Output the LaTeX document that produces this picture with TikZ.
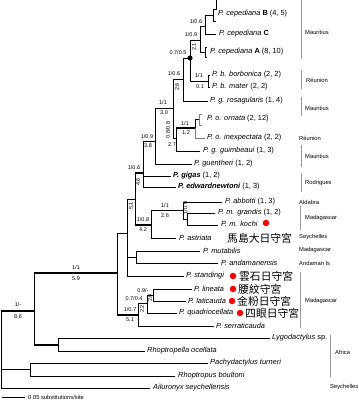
\documentclass[tikz,border=0pt]{standalone}
\usepackage{fontspec}
\setmainfont{Liberation Sans}
\newfontfamily\cjk{Noto Sans CJK TC}
\begin{document}
\begin{tikzpicture}[x=1pt,y=-1pt,
  br/.style={line width=0.75pt},
  thk/.style={line width=2.2pt},
  gbr/.style={line width=0.75pt, draw=gray},
  tip/.style={anchor=west, inner sep=0pt, font=\fontsize{7.4}{8}\selectfont},
  supl/.style={inner sep=0pt, font=\fontsize{5.5}{6}\selectfont},
  rsupl/.style={supl, rotate=90},
  reg/.style={anchor=west, inner sep=0pt, font=\fontsize{5.8}{6}\selectfont},
  regbar/.style={draw=gray!80, line width=0.8pt},
  rdot/.style={circle, fill=red, inner sep=0pt, minimum size=6.5pt},
  zh/.style={anchor=west, inner sep=0pt, font=\cjk\fontsize{10.8}{11}\selectfont}
]
\useasboundingbox (0,0) rectangle (359,400);
% ---------- coordinates of internal nodes ----------
\coordinate (r) at (1,311);
\coordinate (o1) at (34,311);
\coordinate (o2) at (58,345);
\coordinate (o3) at (30,369);
\coordinate (P) at (117,273);
\coordinate (U) at (127,233);
\coordinate (V) at (135,199);
\coordinate (W) at (143,173);
\coordinate (M) at (155,141);
\coordinate (F) at (173,108);
\coordinate (E) at (183,79);
\coordinate (D) at (190,58);
\coordinate (ABC) at (200,40);
\coordinate (BC) at (205,26);
\coordinate (BM) at (208,81);
\coordinate (G) at (176,138);
\coordinate (H) at (195,128);
\coordinate (AB) at (151,225);
\coordinate (AG) at (183,210);
\coordinate (GK) at (187,219);
\coordinate (MA) at (136,257);
\coordinate (L1) at (138,315);
\coordinate (L2) at (147,303);
\coordinate (L3) at (153,295);
% ---------- tip ends ----------
\coordinate (tB) at (213,15);
\coordinate (tC) at (216,34);
\coordinate (tA) at (205,52);
\coordinate (tRos) at (208,101);
\coordinate (tOrn) at (199,119);
\coordinate (tIne) at (205,138);
\coordinate (tGui) at (200,151);
\coordinate (tGue) at (192,164);
\coordinate (tGig) at (171,176);
\coordinate (tEdw) at (176,187);
\coordinate (tAbb) at (222,202);
\coordinate (tGra) at (215,213);
\coordinate (tKoc) at (218,225);
\coordinate (tAst) at (176,238);
\coordinate (tMut) at (200,251);
\coordinate (tAnd) at (218,263);
\coordinate (tSta) at (184,276);
\coordinate (tLin) at (192,289);
\coordinate (tLat) at (186,301);
\coordinate (tQua) at (177,313);
\coordinate (tSer) at (214,326);
\coordinate (tLyg) at (270,338);
\coordinate (tRhe) at (145,351);
\coordinate (tPac) at (208,363);
\coordinate (tRho) at (175,376);
\coordinate (tAil) at (150,388);
% ---------- branches ----------
\draw[thk] (r) -- (o1);
\draw[br] (r) |- (o3);
\draw[br] (r) |- (tAil);
\draw[br] (o3) |- (tPac);
\draw[br] (o3) |- (tRho);
\draw[br] (o1|-P) -- (o1|-o2);
\draw[thk] (o1|-P) -- (P);
\draw[thk] (o1|-o2) -- (o2);
\draw[br] (o2) |- (tLyg);
\draw[br] (o2) |- (tRhe);
\draw[br] (P) |- (U);
\draw[br] (P) -- (P|-L1);
\draw[thk] (P|-L1) -- (L1);
\draw[br] (U) |- (MA);
\draw[br] (U) |- (tSta);
\draw[br] (U) |- (V);
\draw[br] (V) -- (V|-W);
\draw[thk] (V|-W) -- (W);
\draw[br] (V) -- (V|-AB);
\draw[thk] (V|-AB) -- (AB);
\draw[br] (W) |- (M);
\draw[br] (W) |- (tGig);
\draw[br] (W) |- (tEdw);
\draw[br] (M) |- (F);
\draw[br] (M) |- (tGue);
\draw[br] (F) |- (E);
\draw[br] (F) |- (G);
\draw[br] (E) |- (D);
\draw[br] (E) |- (tRos);
\draw[br] (D) |- (ABC);
\draw[br] (D) |- (BM);
\draw[br] (ABC) |- (BC);
\draw[br] (ABC) |- (tA);
\draw[br] (BC) |- (tB);
\draw[br] (BC) |- (tC);
\draw[br] (G) -- (G|-H);
\draw[thk] (G|-H) -- (H);
\draw[br] (G) |- (tGui);
\draw[br] (H) |- (tOrn);
\draw[gbr] (H) |- (tIne);
\draw[br] (AB) |- (AG);
\draw[br] (AB) |- (tAst);
\draw[br] (AG) |- (tAbb);
\draw[br] (AG) |- (GK);
\draw[br] (GK) |- (tGra);
\draw[br] (GK) |- (tKoc);
\draw[br] (MA) |- (tMut);
\draw[br] (MA) |- (tAnd);
\draw[br] (L1) |- (L2);
\draw[br] (L1) |- (tSer);
\draw[br] (L2) |- (L3);
\draw[br] (L2) |- (tQua);
\draw[br] (L3) |- (tLin);
\draw[br] (L3) |- (tLat);
% collapsed clades (brackets)
\draw[br] (216,0) -- (216,9) -- (213,9) -- (213,21) -- (216,21);
\draw[br] (207,47) -- (205,47) -- (205,57) -- (207,57);
\draw[br] (210,75) -- (208,75) -- (208,87) -- (210,87);
\draw[gbr] (202,114) -- (199,114) -- (199,125) -- (202,125);
\fill (D) circle (2.6pt);
% ---------- tip labels ----------
\node[tip] (lB) at (218,14) {\textit{P. cepediana} \textbf{B} (4, 5)};
\node[tip] (lC) at (219,34) {\textit{P. cepediana} \textbf{C}};
\node[tip] (lA) at (210,52) {\textit{P. cepediana} \textbf{A} (8, 10)};
\node[tip] (lBo) at (212,75) {\textit{P. b. borbonica} (2, 2)};
\node[tip] (lMa) at (212,87) {\textit{P. b. mater} (2, 2)};
\node[tip] (lRo) at (210,101) {\textit{P. g. rosagularis} (1, 4)};
\node[tip] (lOr) at (207,119) {\textit{P. o. ornata} (2, 12)};
\node[tip] (lIn) at (207,138) {\textit{P. o. inexpectata} (2, 2)};
\node[tip] (lGu) at (203,151) {\textit{P. g. guimbeaui} (1, 3)};
\node[tip] (lGe) at (194,164) {\textit{P. guentheri} (1, 2)};
\node[tip] (lGi) at (173,176) {\textbf{\textit{P. gigas}} (1, 2)};
\node[tip] (lEd) at (178,187) {\textbf{\textit{P. edwardnewtoni}} (1, 3)};
\node[tip] (lAb) at (225,202) {\textit{P. abbotti} (1, 3)};
\node[tip] (lGr) at (218,213) {\textit{P. m. grandis} (1, 2)};
\node[tip] (lKo) at (221,224) {\textit{P. m. kochi}};
\node[tip] (lAs) at (179,238) {\textit{P. astriata}};
\node[tip] (lMu) at (203,251) {\textit{P. mutabilis}};
\node[tip] (lAn) at (221,263) {\textit{P. andamanensis}};
\node[tip] (lSt) at (186,276) {\textit{P. standingi}};
\node[tip] (lLi) at (194,289) {\textit{P. lineata}};
\node[tip] (lLa) at (188,301) {\textit{P. laticauda}};
\node[tip] (lQu) at (179,313) {\textit{P. quadriocellata}};
\node[tip] (lSe) at (216,326) {\textit{P. serraticauda}};
\node[tip] (lLy) at (272,338) {\textit{Lygodactylus} sp.};
\node[tip] (lRe) at (147,351) {\textit{Rhoptropella ocellata}};
\node[tip] (lPa) at (210,363) {\textit{Pachydactylus turneri}};
\node[tip] (lRh) at (178,376) {\textit{Rhoptropus boultoni}};
\node[tip] (lAi) at (153,388) {\textit{Ailuronyx seychellensis}};
% ---------- red dots and Chinese names ----------
\node[rdot] (d1) at (266,223) {};
\node[zh] (z1) at (227,238) {馬島大日守宮};
\node[rdot] (d2) at (233,276) {};
\node[zh] (z2) at (239,276) {雲石日守宮};
\node[rdot] (d3) at (233,289) {};
\node[zh] (z3) at (238,289) {腰紋守宮};
\node[rdot] (d4) at (232,301) {};
\node[zh] (z4) at (237,301) {金粉日守宮};
\node[rdot] (d5) at (240,313) {};
\node[zh] (z5) at (245,313) {四眼日守宮};
% ---------- support values ----------
\node[supl] (s1) at (196,22) {1/0.6};
\node[supl] (s2) at (191,35) {1/0.9};
\node[rsupl] (s3) at (194,47) {2.1};
\node[supl] (s4) at (178,53) {0.7/0.5};
\node[supl] (s5) at (199,76) {1/1};
\node[supl] (s6) at (200,87) {0.1};
\node[supl] (s7) at (174,74) {1/0.6};
\node[rsupl] (s8) at (177,87) {2.6};
\node[supl] (s9) at (163,103) {1/1};
\node[supl] (s10) at (164,113) {3.0};
\node[rsupl] (s11) at (168,130) {0.8/0.8};
\node[supl] (s12) at (172,145) {2.7};
\node[supl] (s13) at (185,124) {1/1};
\node[supl] (s14) at (186,133) {1.2};
\node[supl] (s15) at (147,137) {1/0.9};
\node[supl] (s16) at (148,146) {3.8};
\node[supl] (s17) at (134,168) {1/0.6};
\node[rsupl] (s18) at (138,182) {4.6};
\node[rsupl] (s19) at (131,206) {5.1};
\node[supl] (s20) at (143,220) {1/0.8};
\node[supl] (s21) at (143,230) {4.2};
\node[supl] (s22) at (165,206) {1/1};
\node[supl] (s23) at (165,216) {2.6};
\node[rsupl] (s24) at (185.5,208) {1/0.9};
\node[supl] (s25) at (76,268) {1/1};
\node[supl] (s26) at (76,279) {5.9};
\node[supl] (s27) at (18,305) {1/-};
\node[supl] (s28) at (18,317) {8.6};
\node[supl] (s29) at (143,291) {0.9/-};
\node[supl] (s30) at (134,299) {0.7/0.4};
\node[rsupl] (s31) at (150,298) {2.0};
\node[supl] (s32) at (130,310) {1/0.7};
\node[rsupl] (s33) at (142,309) {2.2};
\node[supl] (s34) at (130,320) {5.1};
% ---------- regions ----------
\draw[regbar] (301,0) -- (301,59);
\node[reg] (g1) at (305,32) {Mauritius};
\draw[regbar] (301,70) -- (301,89);
\node[reg] (g2) at (306,80) {Réunion};
\draw[regbar] (301,97) -- (301,116);
\node[reg] (g3) at (305,108) {Mauritius};
\node[reg] (g4) at (299,138) {Réunion};
\draw[regbar] (301,145) -- (301,167);
\node[reg] (g5) at (305,156) {Mauritius};
\draw[regbar] (301,173) -- (301,192);
\node[reg] (g6) at (305,183) {Rodrigues};
\node[reg] (g7) at (299,202) {Aldabra};
\draw[regbar] (300,206) -- (300,230);
\node[reg] (g8) at (305,218) {Madagascar};
\node[reg] (g9) at (299,237) {Seychelles};
\node[reg] (g10) at (299,250) {Madagascar};
\node[reg] (g11) at (299,263) {Andaman Is};
\draw[regbar] (300,272) -- (300,328);
\node[reg] (g12) at (305,301) {Madagascar};
\draw[regbar] (330,335) -- (330,377);
\node[reg] (g13) at (335,352) {Africa};
\node[reg] (g14) at (330,387) {Seychelles};
% ---------- scale bar ----------
\coordinate (sb1) at (2,397);
\coordinate (sb2) at (25,397);
\draw[br] (sb1) -- (sb2);
\node[reg] (sbl) at (28,397) {0.05 substitutions/site};
\end{tikzpicture}
\end{document}
